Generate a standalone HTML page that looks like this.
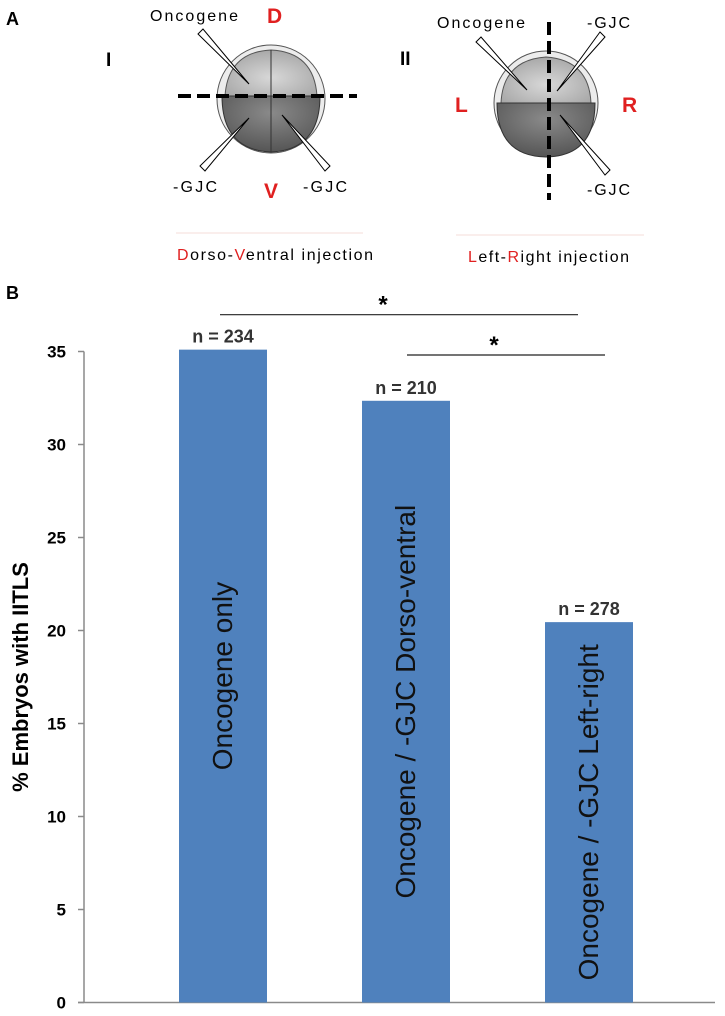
<!DOCTYPE html>
<html><head><meta charset="utf-8"><style>
body{margin:0;background:#fff;}
svg{display:block;font-family:"Liberation Sans",Arial,sans-serif;}
</style></head><body>
<svg width="725" height="1016" viewBox="0 0 725 1016">
<defs>
<radialGradient id="eg" cx="0.5" cy="0.6" r="0.6"><stop offset="0" stop-color="#d8d8d8"/><stop offset="1" stop-color="#a8a8a8"/></radialGradient>
<radialGradient id="eg2" cx="0.5" cy="0.3" r="0.7"><stop offset="0" stop-color="#8a8a8a"/><stop offset="1" stop-color="#555"/></radialGradient>
</defs>
<g>
<text x="6" y="25" font-size="18" font-weight="bold">A</text>
<text x="106" y="66" font-size="19" font-weight="bold">I</text>
<g>
<circle cx="271" cy="99" r="54" fill="#ececec" stroke="#555" stroke-width="1"/>
<path d="M225,96 Q228,52 271,50 Q314,52 317,96 Z" fill="url(#eg)" stroke="#555"/>
<path d="M222,96 Q222,150 271,152 Q320,150 320,96 Z" fill="url(#eg2)" stroke="#333"/>
<line x1="271" y1="50" x2="271" y2="152" stroke="#333"/>
<line x1="178" y1="96" x2="357" y2="96" stroke="#000" stroke-width="4" stroke-dasharray="13,6"/>
<polygon points="198,34 203,29 249,84" fill="#fff" stroke="#000"/>
<polygon points="200,166 205,171 249,118" fill="#fff" stroke="#000"/>
<polygon points="330,166 325,171 282,115" fill="#fff" stroke="#000"/>
</g>
<text x="150" y="21" font-size="16" textLength="88">Oncogene</text>
<text x="267" y="23" font-size="21" font-weight="bold" fill="#e02020">D</text>
<text x="173" y="192" font-size="16" textLength="44">-GJC</text>
<text x="303" y="192" font-size="16" textLength="44">-GJC</text>
<text x="264" y="198" font-size="21" font-weight="bold" fill="#e02020">V</text>
<line x1="176" y1="233" x2="363" y2="233" stroke="#f5dcd8"/>
<text x="177" y="260" font-size="16" textLength="196"><tspan fill="#e02020">D</tspan>orso-<tspan fill="#e02020">V</tspan>entral injection</text>

<text x="400" y="65" font-size="19" font-weight="bold">II</text>
<g>
<circle cx="546" cy="103" r="52" fill="#ececec" stroke="#555"/>
<path d="M501,103 Q503,60 546,57 Q589,60 591,103 Z" fill="url(#eg)" stroke="#555"/>
<path d="M497,103 Q497,156 546,157 Q595,156 595,103 Z" fill="url(#eg2)" stroke="#333"/>
<line x1="549" y1="22" x2="549" y2="200" stroke="#000" stroke-width="4" stroke-dasharray="13,6"/>
<polygon points="476,42 481,37 527,90" fill="#fff" stroke="#000"/>
<polygon points="600,32 605,37 557,91" fill="#fff" stroke="#000"/>
<polygon points="605,175 610,170 560,115" fill="#fff" stroke="#000"/>
</g>
<text x="437" y="28" font-size="16" textLength="88">Oncogene</text>
<text x="587" y="28" font-size="16" textLength="43">-GJC</text>
<text x="587" y="195" font-size="16" textLength="43">-GJC</text>
<text x="455" y="112" font-size="21" font-weight="bold" fill="#e02020">L</text>
<text x="622" y="112" font-size="21" font-weight="bold" fill="#e02020">R</text>
<line x1="456" y1="235" x2="644" y2="235" stroke="#f5dcd8"/>
<text x="468" y="262" font-size="16" textLength="161"><tspan fill="#e02020">L</tspan>eft-<tspan fill="#e02020">R</tspan>ight injection</text>
</g>
<text x="6" y="299" font-size="18" font-weight="bold">B</text>
<g id="chart"></g>
</svg>
<script>
const categories = ["Oncogene only", "Oncogene / -GJC Dorso-ventral", "Oncogene / -GJC Left-right"];
const values = [35.1, 32.35, 20.45];
const nLabels = ["n = 234", "n = 210", "n = 278"];
const ticks = [0, 5, 10, 15, 20, 25, 30, 35];
const NS = "http://www.w3.org/2000/svg";
const g = document.getElementById("chart");
const x0 = 84, x1 = 715, yTop = 351.5, yBot = 1002.5, yMax = 35;
const y = v => yBot - (v / yMax) * (yBot - yTop);
const xc = i => 223 + 183 * i;
const barW = 88;
function mk(tag, attrs, parent) { const e = document.createElementNS(NS, tag); for (const k in attrs) e.setAttribute(k, attrs[k]); (parent || g).appendChild(e); return e; }

const ax = mk("line", {x1: x0, y1: yTop, x2: x0, y2: yBot, stroke: "#8a8a8a", "stroke-width": 1.5});


const xa = mk("line", {x1: x0 - 6, y1: yBot, x2: x1, y2: yBot, stroke: "#8a8a8a", "stroke-width": 1.5});


ticks.forEach(t => {
  const tl = mk("line", {x1: x0 - 6, y1: y(t), x2: x0, y2: y(t), stroke: "#8a8a8a", "stroke-width": 1.5});
  
  
  const tx = mk("text", {x: 66, y: y(t) + 6, "text-anchor": "end", "font-size": 17, "font-weight": "bold"});
  tx.textContent = t;
  
  
});
const yt = mk("text", {x: 0, y: 0, "text-anchor": "middle", "font-size": 22, "font-weight": "bold", transform: `translate(28,${(yTop + yBot) / 2}) rotate(-90)`});
yt.textContent = "% Embryos with IITLS";



values.forEach((v, i) => {
  const cx = xc(i);
  const r = mk("rect", {x: cx - barW / 2, y: y(v), width: barW, height: yBot - y(v), fill: "#4f81bd"});
  
  
  const n = mk("text", {x: cx, y: y(v) - 7, "text-anchor": "middle", "font-size": 18, "font-weight": "bold", fill: "#333"});
  n.textContent = nLabels[i];
  
  
  const c = mk("text", {x: 0, y: 0, "text-anchor": "middle", "font-size": 28, fill: "#111", transform: `translate(${cx + 9},${(y(v) + yBot) / 2}) rotate(-90)`});
  c.textContent = categories[i];
  
  
});

const sigLines = [[220, 578, 314.7, 383], [407, 605, 355, 494]];
sigLines.forEach(s => {
  const l = mk("line", {x1: s[0], y1: s[2], x2: s[1], y2: s[2], stroke: "#222", "stroke-width": 1.2});
  
  
  const st = mk("text", {x: s[3], y: s[2] - 2, "text-anchor": "middle", "font-size": 24, "font-weight": "bold"});
  st.textContent = "*";
  
  
});
</script>
</body></html>
